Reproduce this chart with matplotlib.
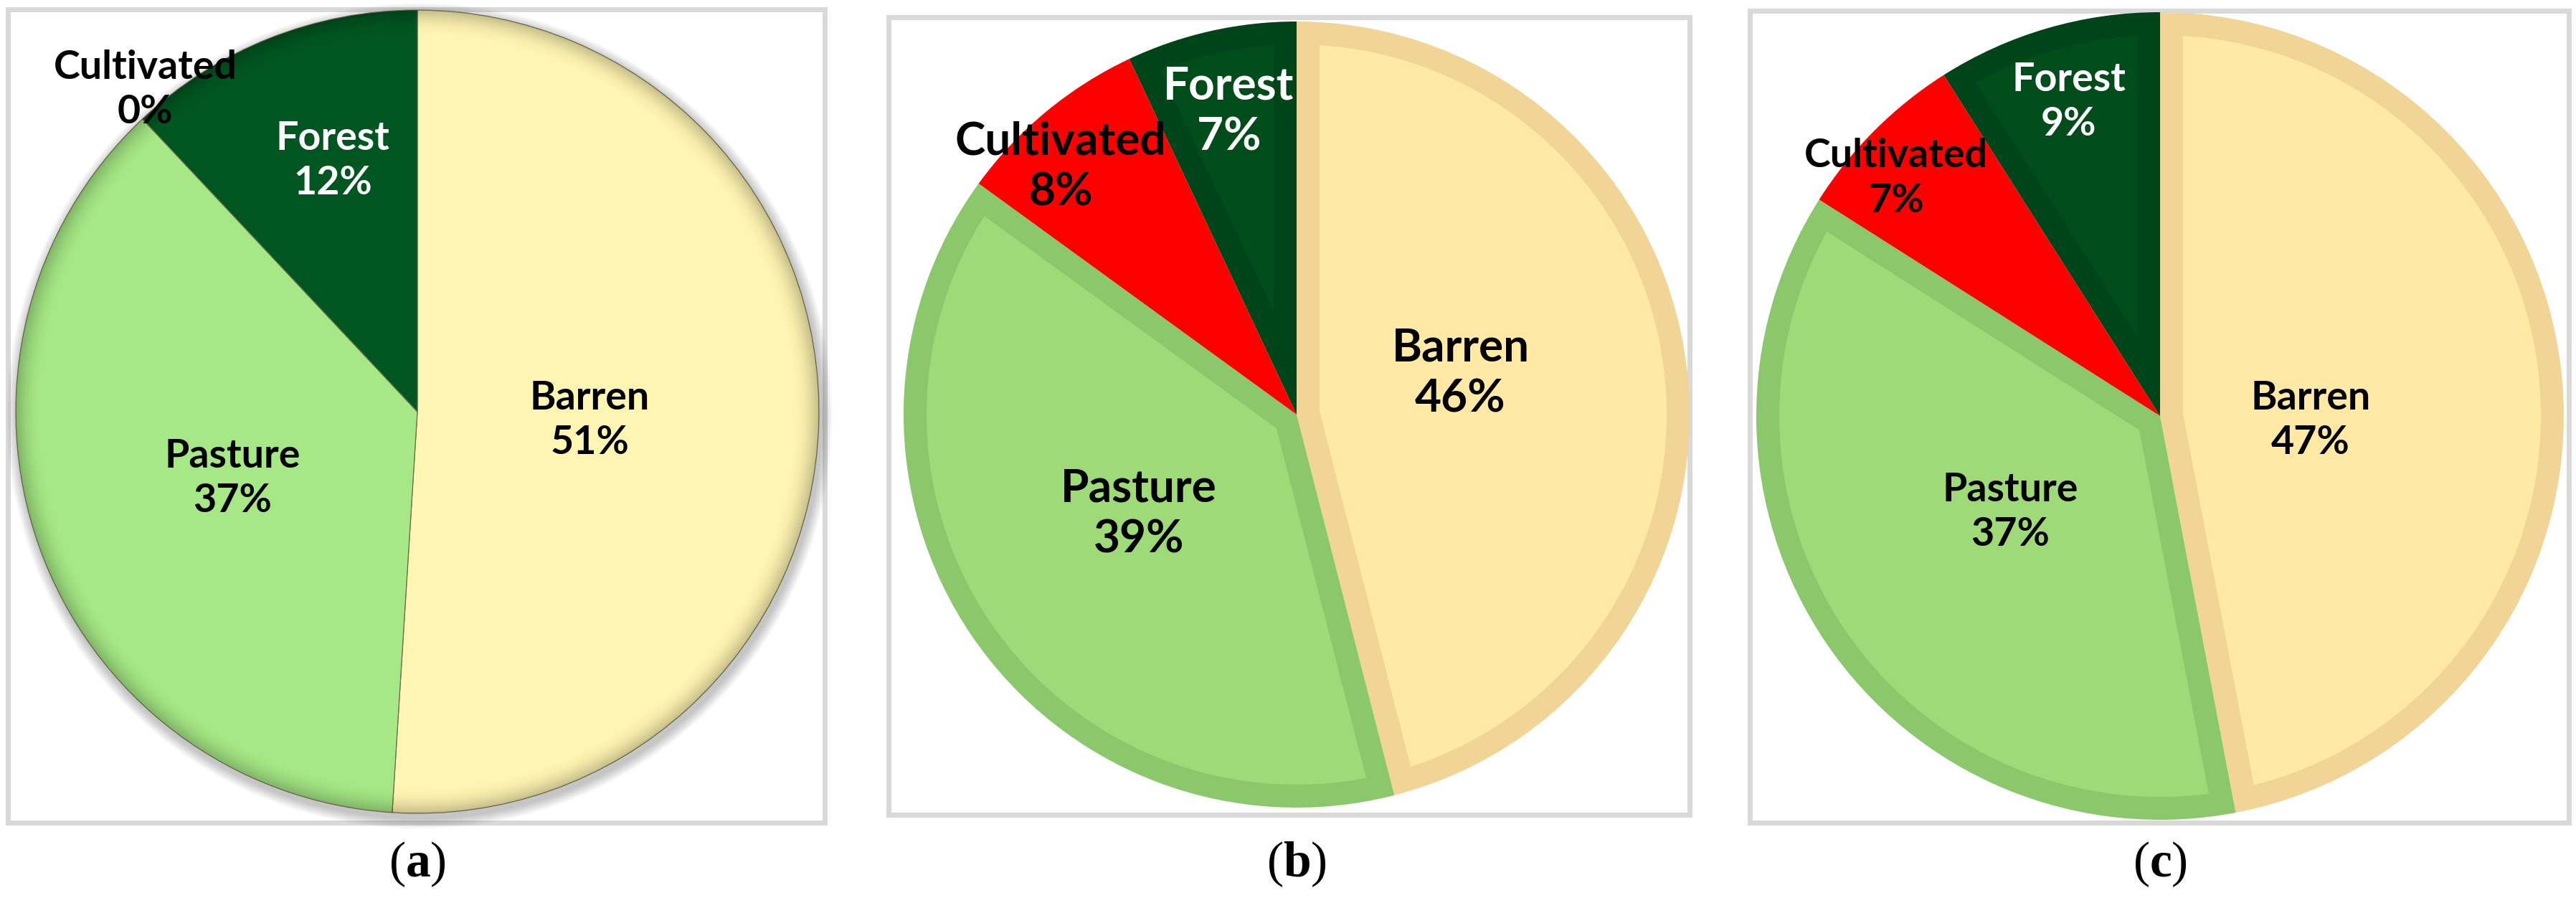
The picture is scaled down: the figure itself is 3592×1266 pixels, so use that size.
import numpy as np
import matplotlib.pyplot as plt
from matplotlib.patches import Rectangle, Wedge, Circle, Polygon

# figure size in pixels
W, H = 3592, 1266
DPI = 200

plt.rcParams['mathtext.fontset'] = 'custom'
plt.rcParams['mathtext.rm'] = 'Liberation Serif'
plt.rcParams['mathtext.bf'] = 'Liberation Serif:bold'

# data
cats = ['Barren', 'Pasture', 'Cultivated', 'Forest']
vals_a = [51, 37, 0, 12]
vals_b = [46, 39, 8, 7]
vals_c = [47, 37, 7, 9]
tags = ['a', 'b', 'c']

# colours
fill_a = ['#FFF5B2', '#A6E885', '#FF0000', '#005621']
fill_bc = ['#FFE9A4', '#9EDA78', '#FF0000', '#004C1A']
edge_bc = ['#F0D596', '#8BC76B', '#FF0000', '#00441A']
txt_col = ['black', 'black', 'black', 'white']

# layout (pixels, y measured from the top)
panels = [
    dict(vals=vals_a, frame=(11, 13, 1150, 1147), c=(582, 574), r=560, fs=20,
         ldist=[0.43, 0.49, 1.05, 0.66], lrot=[-1, 0, -3, -3], bevel=True),
    dict(vals=vals_b, frame=(1239, 24, 2356, 1136), c=(1808, 578), r=548, fs=23,
         ldist=[0.43, 0.475, 0.87, 0.79], lrot=[7, -2, 4, 0], bevel=False),
    dict(vals=vals_c, frame=(2440, 15, 3582, 1147), c=(3012, 580), r=563, fs=20,
         ldist=[0.373, 0.44, 0.88, 0.81], lrot=[-7, -1.5, 3, 0], bevel=False),
]
tag_y = 1205
band = 32  # width of the inner border in b and c, px


def inset_wedge(w, d):
    # the part of wedge w lying at least d away from its outline
    t1, t2 = np.deg2rad(w.theta1), np.deg2rad(w.theta2)
    half = (t2 - t1) / 2
    cx, cy = w.center
    rr = w.r - d
    apex = d / np.sin(half)
    mid = t1 + half
    dlt = np.arcsin(d / rr)
    ts = np.linspace(t1 + dlt, t2 - dlt, 200)
    xs = np.r_[cx + apex * np.cos(mid), cx + rr * np.cos(ts)]
    ys = np.r_[cy + apex * np.sin(mid), cy + rr * np.sin(ts)]
    return np.column_stack([xs, ys])


fig = plt.figure(figsize=(W / DPI, H / DPI), dpi=DPI)
ax = fig.add_axes([0, 0, 1, 1])
px = 72 / DPI  # one pixel in points

for p, tag in zip(panels, tags):
    x0, y0, x1, y1 = p['frame']
    ax.add_patch(Rectangle((x0, H - y1), x1 - x0, y1 - y0, fill=False,
                           edgecolor='#D9D9D9', linewidth=7 * px, zorder=1))
    cx, cy = p['c'][0], H - p['c'][1]
    r = p['r']

    if p['bevel']:
        # soft drop shadow
        for k in range(10):
            ax.add_patch(Circle((cx + 3, cy - 6), r + 2 + k * 1.5, color='black',
                                alpha=0.025, lw=0, zorder=2))
        cols = fill_a
    else:
        cols = edge_bc

    wedges, _ = ax.pie(p['vals'], colors=cols, startangle=90, counterclock=False,
                       center=(cx, cy), radius=r, frame=True,
                       wedgeprops=dict(linewidth=0))
    for w in wedges:
        w.set_zorder(3)

    if p['bevel']:
        for w in wedges:
            w.set_edgecolor('#6b6b4a')
            w.set_linewidth(1.2 * px)
        clip = Circle((cx, cy), r, transform=ax.transData)
        n = 14
        for k in range(n):
            ring = Wedge((cx, cy), r - k * 2.5, 0, 360, width=2.5, color='black',
                         alpha=0.22 * (1 - k / n) ** 2, lw=0, zorder=4)
            ax.add_patch(ring)
            ring.set_clip_path(clip)
    else:
        # inner border: slice filled with border colour, inset filled with body colour
        for w, fc in zip(wedges, fill_bc):
            ax.add_patch(Polygon(inset_wedge(w, band), closed=True, facecolor=fc,
                                 lw=0, zorder=4))

    for w, cat, v, d, rot, tc in zip(wedges, cats, p['vals'], p['ldist'], p['lrot'], txt_col):
        ang = np.deg2rad((w.theta1 + w.theta2) / 2 + rot)
        ax.text(cx + d * r * np.cos(ang), cy + d * r * np.sin(ang), f'{cat}\n{v}%',
                ha='center', va='center', fontsize=p['fs'], fontweight='bold',
                color=tc, family=['Lato', 'DejaVu Sans'], linespacing=1.3, zorder=6)

    ax.text(p['c'][0], H - tag_y, r'($\mathbf{' + tag + '}$)', ha='center', va='center',
            fontsize=25, family='Liberation Serif')

ax.set_xlim(0, W)
ax.set_ylim(0, H)
ax.set_aspect('auto')
ax.axis('off')

fig.savefig('out.png', dpi=DPI, facecolor='white')
